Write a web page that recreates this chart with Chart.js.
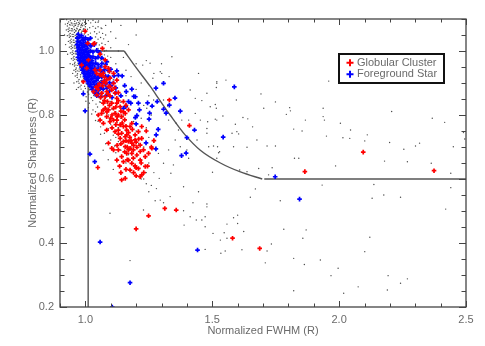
<!DOCTYPE html>
<html>
<head>
<meta charset="utf-8">
<script src="https://cdn.jsdelivr.net/npm/chart.js@4.4.1/dist/chart.umd.min.js"></script>
<style>
  html, body { margin: 0; padding: 0; background: #fff; }
  #wrap { width: 485px; height: 346px; }
</style>
</head>
<body>
<div id="wrap"><canvas id="sharpChart" width="485" height="346"></canvas></div>
<script>
// axis ticks
const xTickLabels = [1.0, 1.5, 2.0, 2.5];
const yTickLabels = [0.2, 0.4, 0.6, 0.8, 1.0];
const xMinorTicks = [0.9, 1.0, 1.1, 1.2, 1.3, 1.4, 1.5, 1.6, 1.7, 1.8, 1.9, 2.0, 2.1, 2.2, 2.3, 2.4, 2.5];
const yMinorTicks = [0.2, 0.25, 0.3, 0.35, 0.4, 0.45, 0.5, 0.55, 0.6, 0.65, 0.7, 0.75, 0.8, 0.85, 0.9, 0.95, 1.0, 1.05, 1.1];

// selection boundary, [fwhm, sharpness]
const cutBox = [[1.011, 0.2], [1.011, 1.0], [1.153, 1.0]];
const cutCurve = [[1.153, 1.0], [1.2, 0.948], [1.255, 0.89], [1.295, 0.844], [1.334, 0.8], [1.393, 0.738],
  [1.453, 0.69], [1.532, 0.65], [1.611, 0.622], [1.697, 0.6]];
const cutFloor = [[1.705, 0.6], [2.5, 0.6]];

// globular clusters (red)
const clusterGCs = [
  [0.999,1.062],[1.036,1.024],[1.067,1.008],[1.012,0.972],[1.005,0.946],[0.992,0.904],[1.038,0.941],[1.058,0.925],
  [1.071,0.93],[1.091,0.946],[1.078,0.972],[1.051,0.889],[1.064,0.868],[1.097,0.889],[1.124,0.909],[1.009,1.024],
  [1.032,1.022],[0.985,0.956],[1.058,0.99],
  [1.058,0.941],[1.078,0.951],[1.095,0.936],[1.111,0.93],[1.045,0.93],[1.071,0.904],
  [1.064,0.925],[1.075,0.918],[1.084,0.91],[1.097,0.915],[1.055,0.897],[1.068,0.891],[1.042,0.887],[1.091,0.889],
  [1.111,0.899],[1.104,0.878],[1.084,0.873],[1.064,0.868],[1.045,0.863],[1.032,0.873],[1.078,0.857],[1.097,0.859],
  [1.117,0.868],[1.124,0.852],[1.087,0.842],[1.071,0.837],[1.104,0.837],[1.124,0.837],[1.137,0.826],[1.15,0.842],
  [1.111,0.821],[1.091,0.816],[1.078,0.821],[1.064,0.805],[1.051,0.8],[1.084,0.795],[1.117,0.805],[1.13,0.8],
  [1.097,0.779],[1.111,0.784],[1.124,0.784],[1.143,0.795],[1.157,0.805],[1.17,0.816],[1.137,0.769],[1.15,0.764],
  [1.163,0.753],[1.176,0.764],[1.183,0.774],[1.13,0.753],[1.117,0.748],[1.143,0.743],[1.157,0.732],[1.17,0.717],
  [1.183,0.712],[1.196,0.722],[1.163,0.738],[1.15,0.717],[1.137,0.727],[1.176,0.696],[1.189,0.691],[1.203,0.699],
  [1.216,0.686],[1.183,0.68],[1.163,0.68],[1.143,0.67],[1.13,0.691],[1.111,0.691],[1.091,0.712],[1.104,0.696],
  [1.124,0.659],[1.15,0.654],[1.17,0.659],[1.189,0.665],[1.216,0.659],[1.236,0.67],[1.249,0.68],[1.216,0.706],
  [1.229,0.691],[1.183,0.649],[1.196,0.641],[1.209,0.633],[1.176,0.628],[1.222,0.613],[1.216,0.607],[1.143,0.597],
  [1.157,0.602],[1.203,0.675],[1.157,0.701],[1.17,0.691],[1.196,0.738],[1.222,0.727],[1.209,0.748],[1.222,0.764],
  [1.084,0.753],[1.071,0.774],[1.058,0.784],
  [1.05,0.88],[1.08,0.9],[1.115,0.885],[1.06,0.855],[1.09,0.865],[1.13,0.87],[1.075,0.845],
  [1.095,0.83],[1.12,0.825],[1.085,0.81],[1.105,0.8],[1.14,0.812],[1.07,0.815],[1.13,0.845],[1.15,0.81],[1.16,0.83],
  [1.1,0.79],[1.12,0.77],[1.145,0.775],[1.155,0.785],[1.16,0.765],[1.13,0.74],[1.17,0.745],[1.185,0.755],[1.105,0.76],[1.125,0.795],
  [1.14,0.71],[1.16,0.72],[1.175,0.73],[1.19,0.705],[1.2,0.715],[1.155,0.685],[1.125,0.705],[1.21,0.725],[1.165,0.7],[1.18,0.72],
  [1.135,0.64],[1.16,0.63],[1.19,0.62],[1.2,0.635],[1.22,0.65],[1.23,0.62],[1.165,0.66],[1.14,0.62],[1.245,0.64],[1.2,0.61],
  [1.24,0.75],[1.26,0.7],[1.27,0.72],[1.262,0.696],[1.236,0.639],
  [1.049,0.636],[1.2,0.444],[1.249,0.485],[1.313,0.508],[1.358,0.503],[1.41,0.767],[1.331,0.847],[1.58,0.415],
  [1.687,0.383],[1.865,0.623],[2.095,0.684],[2.374,0.626]
];

// foreground stars (blue)
const foregroundStars = [
  [0.972,1.052],[0.985,1.048],
  [0.968,1.040],[0.978,1.043],[0.990,1.037],[1.000,1.041],[1.010,1.036],[1.020,1.040],
  [0.970,1.030],[0.980,1.027],[0.992,1.032],[1.000,1.026],
  [0.967,1.020],[0.976,1.017],[0.986,1.022],[0.995,1.015],[1.004,1.019],[1.012,1.022],[1.022,1.016],[1.035,1.020],
  [0.972,1.010],[0.981,1.006],[0.990,1.012],[0.999,1.004],[1.008,1.009],
  [0.969,1.000],[0.977,0.996],[0.986,1.001],[0.994,0.994],[1.003,0.999],[1.012,0.995],[1.020,1.001],[1.030,0.997],[1.045,1.002],[1.055,0.996],
  [0.974,0.990],[0.982,0.986],[0.990,0.991],[0.998,0.984],[1.007,0.989],[1.016,0.985],
  [0.971,0.980],[0.979,0.976],[0.987,0.981],[0.995,0.974],[1.003,0.979],[1.011,0.975],[1.020,0.980],[1.030,0.982],[1.040,0.977],[1.050,0.981],[1.065,0.978],
  [0.976,0.970],[0.984,0.966],[0.992,0.971],[1.000,0.964],[1.008,0.969],[1.017,0.965],[1.026,0.970],
  [0.980,0.960],[0.988,0.956],[0.996,0.961],[1.004,0.954],[1.012,0.959],[1.021,0.955],[1.030,0.960],[1.040,0.962],[1.050,0.957],[1.065,0.961],[1.080,0.958],
  [0.984,0.950],[0.992,0.946],[1.000,0.951],[1.008,0.944],[1.017,0.949],[1.026,0.945],[1.036,0.950],
  [0.988,0.940],[0.997,0.936],[1.005,0.941],[1.013,0.934],[1.022,0.939],[1.031,0.935],[1.042,0.940],[1.050,0.943],[1.060,0.938],[1.075,0.942],[1.090,0.939],
  [0.993,0.930],[1.002,0.926],[1.010,0.931],[1.019,0.924],[1.028,0.929],[1.038,0.925],
  [0.998,0.920],[1.008,0.916],[1.017,0.921],[1.026,0.914],[1.036,0.919],[1.047,0.915],[1.055,0.922],[1.065,0.918],[1.080,0.921],[1.095,0.917],
  [1.004,0.910],[1.014,0.906],[1.024,0.911],[1.034,0.904],[1.045,0.909],
  [1.010,0.900],[1.021,0.896],[1.032,0.901],[1.043,0.894],[1.055,0.899],[1.065,0.902],[1.080,0.897],[1.095,0.901],
  [1.018,0.890],[1.030,0.886],[1.042,0.891],[1.056,0.884],[1.070,0.881],[1.085,0.884],
  [1.027,0.880],[1.040,0.876],[1.053,0.879],
  [1.036,0.870],[1.050,0.866],[1.045,0.860],[1.060,0.857],
  [1.060,0.950],[1.070,0.935],[1.050,0.915],[1.075,0.905],[1.090,0.920],[1.065,0.885],[1.080,0.860],[1.095,0.875],
  [1.040,0.870],[1.110,0.900],[1.120,0.870],[1.140,0.860],[1.105,0.855],
  [1.084,0.967],[1.1,0.943],[1.113,0.922],[1.124,0.938],[1.13,0.924],[1.145,0.922],[1.12,0.885],[1.1,0.891],
  [1.155,0.892],[1.161,0.873],[1.183,0.881],[1.197,0.857],[1.179,0.837],[1.159,0.826],[1.15,0.821],[1.17,0.842],
  [1.191,0.858],[1.209,0.837],[1.245,0.838],[1.263,0.828],[1.283,0.842],[1.278,0.884],[1.308,0.899],[1.353,0.853],
  [1.331,0.831],[1.374,0.812],[1.308,0.818],[1.318,0.806],[1.253,0.806],[1.213,0.816],[1.197,0.792],[1.203,0.798],
  [1.2,0.772],[1.251,0.787],[1.287,0.755],[1.279,0.738],[1.239,0.713],[1.278,0.694],[1.43,0.753],[1.4,0.729],
  [1.397,0.681],[1.379,0.673],[1.543,0.731],[1.587,0.888],[1.748,0.607],[1.844,0.537],[1.442,0.378],[1.176,0.276],
  [1.058,0.403],[1.018,0.678],[1.037,0.654],[0.999,0.813],[0.992,0.866],[1.106,0.2]
];

// all detected sources (black dots)
const fieldStars = [
  [0.926,1.098],[0.934,1.091],[0.941,1.095],[0.947,1.087],[0.953,1.099],[0.958,1.093],[0.963,1.085],[0.969,1.096],[0.974,1.089],[0.979,1.094],[0.985,1.083],[0.991,1.097],[0.997,1.090],[1.004,1.086],[1.012,1.095],[1.021,1.088],
  [1.030,1.096],[1.040,1.090],[1.052,1.094],
  [0.921,1.084],[0.930,1.086],[0.938,1.082],[0.944,1.088],[0.950,1.081],[0.956,1.085],[0.961,1.080],[0.966,1.088],[0.972,1.082],[0.977,1.085],[0.983,1.080],[0.988,1.087],[0.995,1.081],
  [0.929,1.078],[0.936,1.072],[0.943,1.081],[0.949,1.069],[0.955,1.076],[0.960,1.080],[0.966,1.071],[0.971,1.077],[0.977,1.067],[0.982,1.074],[0.988,1.079],[0.994,1.070],[1.000,1.076],[1.008,1.068],[1.017,1.073],[1.030,1.077],
  [1.040,1.071],[1.050,1.076],[1.062,1.072],
  [0.925,1.066],[0.932,1.068],[0.939,1.064],[0.945,1.070],[0.951,1.063],[0.957,1.067],[0.962,1.062],[0.968,1.069],[0.974,1.064],[0.980,1.067],[0.986,1.062],[0.992,1.068],
  [0.933,1.061],[0.940,1.055],[0.946,1.063],[0.952,1.052],[0.957,1.058],[0.963,1.064],[0.968,1.054],[0.973,1.060],[0.979,1.050],[0.984,1.057],[0.990,1.062],[0.996,1.053],[1.003,1.059],[1.011,1.051],[1.020,1.056],[1.036,1.060],
  [1.045,1.054],[1.055,1.059],[1.068,1.055],
  [0.929,1.048],[0.936,1.050],[0.942,1.046],[0.948,1.052],[0.954,1.045],[0.960,1.049],[0.965,1.044],[0.971,1.051],[0.977,1.046],[0.983,1.049],
  [0.937,1.043],[0.944,1.037],[0.950,1.045],[0.955,1.034],[0.961,1.041],[0.966,1.046],[0.972,1.036],[0.977,1.042],[0.982,1.032],[0.987,1.039],[0.993,1.044],[0.999,1.035],[1.006,1.041],[1.014,1.033],[1.024,1.038],[1.040,1.044],
  [1.050,1.037],[1.060,1.042],[1.072,1.038],
  [0.933,1.030],[0.940,1.032],[0.946,1.028],[0.952,1.034],[0.958,1.027],[0.964,1.031],[0.969,1.026],[0.975,1.033],
  [0.940,1.025],[0.947,1.019],[0.953,1.027],[0.959,1.016],[0.964,1.023],[0.969,1.028],[0.975,1.018],[0.980,1.024],[0.985,1.014],[0.991,1.021],[0.997,1.026],[1.003,1.017],[1.010,1.023],[1.018,1.015],[1.028,1.020],[1.045,1.026],
  [1.055,1.019],[1.065,1.024],[1.078,1.020],
  [0.937,1.012],[0.944,1.014],[0.950,1.010],[0.956,1.016],[0.962,1.009],[0.968,1.013],
  [0.944,1.007],[0.951,1.001],[0.957,1.009],[0.963,0.998],[0.968,1.005],[0.973,1.010],[0.979,1.000],[0.984,1.006],[0.989,0.996],[0.995,1.003],[1.001,1.008],[1.007,0.999],[1.014,1.005],[1.022,0.997],[1.032,1.002],[1.050,1.008],
  [1.060,1.001],[1.070,1.006],[1.082,1.002],
  [0.941,0.994],[0.948,0.996],[0.954,0.992],[0.960,0.998],[0.966,0.991],
  [0.948,0.989],[0.955,0.983],[0.961,0.991],[0.967,0.980],[0.972,0.987],[0.977,0.992],[0.983,0.982],[0.988,0.988],[0.993,0.978],[0.999,0.985],[1.005,0.990],[1.011,0.981],[1.018,0.987],[1.026,0.979],[1.037,0.984],[1.055,0.990],
  [1.065,0.983],[1.075,0.988],[1.088,0.984],
  [0.945,0.976],[0.952,0.978],[0.958,0.974],[0.964,0.980],
  [0.952,0.971],[0.959,0.965],[0.965,0.973],[0.971,0.962],[0.976,0.969],[0.981,0.974],[0.987,0.964],[0.992,0.970],[0.997,0.960],[1.003,0.967],[1.009,0.972],[1.015,0.963],[1.022,0.969],[1.030,0.961],[1.041,0.966],[1.060,0.972],
  [1.070,0.965],[1.080,0.970],[1.092,0.966],
  [0.950,0.958],[0.957,0.960],[0.963,0.956],
  [0.957,0.953],[0.964,0.947],[0.970,0.955],[0.976,0.944],[0.981,0.951],[0.986,0.956],[0.992,0.946],[0.997,0.952],[1.002,0.942],[1.008,0.949],[1.014,0.954],[1.020,0.945],[1.027,0.951],[1.035,0.943],[1.046,0.948],[1.064,0.954],
  [1.075,0.947],[1.085,0.952],[1.098,0.948],
  [0.955,0.940],[0.962,0.942],[0.968,0.938],
  [0.962,0.935],[0.969,0.929],[0.975,0.937],[0.981,0.926],[0.986,0.933],[0.991,0.938],[0.997,0.928],[1.002,0.934],[1.008,0.924],[1.014,0.931],[1.020,0.936],[1.027,0.927],[1.035,0.933],[1.044,0.925],[1.056,0.930],[1.070,0.936],
  [0.960,0.922],[0.967,0.924],
  [0.968,0.917],[0.975,0.911],[0.981,0.919],[0.987,0.908],[0.993,0.915],[0.999,0.920],[1.005,0.910],[1.011,0.916],[1.017,0.906],[1.024,0.913],[1.031,0.918],[1.039,0.909],[1.048,0.915],[1.060,0.907],[1.075,0.912],
  [0.966,0.904],[0.972,0.906],
  [0.975,0.899],[0.983,0.893],[0.990,0.901],[0.997,0.890],[1.004,0.897],[1.011,0.902],[1.018,0.892],[1.025,0.898],[1.032,0.888],[1.040,0.895],[1.049,0.900],[1.058,0.891],[1.069,0.897],[1.080,0.889],
  [0.972,0.886],[0.979,0.888],
  [0.983,0.881],[0.992,0.875],[1.000,0.883],[1.008,0.872],[1.016,0.879],[1.024,0.884],[1.032,0.874],[1.041,0.880],[1.050,0.870],[1.060,0.877],[1.072,0.882],[1.085,0.873],
  [0.992,0.863],[1.003,0.857],[1.013,0.865],[1.023,0.854],[1.033,0.861],[1.043,0.866],[1.054,0.856],[1.066,0.862],[1.079,0.852],[1.092,0.859],
  [1.002,0.843],[1.016,0.837],[1.029,0.845],[1.042,0.834],[1.056,0.841],[1.070,0.846],[1.086,0.836],[1.100,0.842],
  [1.012,0.823],[1.030,0.816],[1.048,0.825],[1.066,0.814],[1.085,0.821],[1.105,0.818],
  [1.025,0.803],[1.050,0.797],[1.075,0.806],[1.100,0.795],[1.118,0.801],[1.040,0.783],[1.070,0.777],[1.095,0.785],
  [1.125,0.776],[1.060,0.763],[1.090,0.757],[1.130,0.761],[1.075,0.743],[1.110,0.737],[1.140,0.741],[1.100,0.722],
  [1.130,0.717],[1.115,0.703],[1.160,0.698],[1.120,0.682],[1.170,0.676],
  [0.918,1.050],[0.922,1.020],[0.930,0.990],[0.940,0.960],[0.950,0.930],[0.955,0.900],[0.965,0.880],[1.050,1.090],
  [1.065,1.070],[1.080,1.050],[1.090,1.030],[1.100,1.010],[1.075,1.000],[1.100,0.980],[1.120,0.960],[1.095,0.940],
  [1.130,0.930],[1.110,0.910],[1.150,0.890],[1.120,0.870],[1.160,0.860],[1.140,0.840],[1.170,0.820],[1.150,0.800],
  [1.190,0.780],[1.200,0.750],[1.180,0.730],[1.210,0.710],[1.190,0.690],[1.220,0.660],[1.200,0.640],[1.240,0.620],
  [1.230,0.600],[1.260,0.580],[1.250,0.560],
  [1.060,0.840],[1.075,0.820],[1.090,0.800],[1.100,0.830],[1.120,0.810],[1.140,0.790],[1.100,0.770],[1.130,0.760],
  [1.160,0.750],[1.120,0.730],[1.150,0.720],[1.180,0.700],[1.140,0.690],[1.170,0.680],[1.200,0.670],[1.160,0.650],
  [1.190,0.640],[1.210,0.630],[1.180,0.620],[1.230,0.640],[1.250,0.650],[1.220,0.600],[1.270,0.620],[1.240,0.585],
  [1.280,0.570],[1.080,0.710],[1.060,0.740],[1.050,0.780],[1.040,0.810],[1.070,0.690],[1.090,0.660],[1.110,0.630],
  [1.230,0.700],[1.250,0.730],[1.240,0.760],[1.220,0.790],[1.260,0.800],[1.230,0.830],[1.250,0.860],[1.200,0.880],
  [1.220,0.900],[1.180,0.920],[1.160,0.940],[1.200,0.960],[1.150,0.980],[1.130,1.000],[1.170,1.020],[1.120,1.040],
  [1.100,1.060],[1.140,1.080],[1.080,1.080],[1.200,1.050],[1.240,0.970],[1.300,0.960],[1.330,0.920],[1.270,0.930],
  [1.341,0.982],[1.255,0.962],[1.226,0.956],[1.295,0.935],[1.301,0.93],[1.266,0.915],[1.308,0.904],[1.446,0.93],
  [1.518,0.899],[1.413,0.878],[1.433,0.852],[1.479,0.868],[1.595,0.847],[1.492,0.826],[1.433,0.805],[1.453,0.784],
  [1.407,0.784],[1.38,0.784],[1.518,0.784],[1.358,0.774],[1.328,0.784],[1.367,0.753],[1.479,0.758],[1.597,0.748],
  [1.308,0.847],[1.324,0.828],[1.269,0.847],[1.242,0.821],[1.354,0.722],[1.374,0.701],[1.4,0.691],[1.288,0.68],
  [1.328,0.691],[1.44,0.722],[1.479,0.743],[1.521,0.701],[1.637,0.699],[1.676,0.722],[1.637,0.623],[1.337,0.618],
  [1.291,0.602],[1.387,0.576],[1.446,0.56],[1.407,0.665],[1.308,0.649],[1.347,0.644],[1.518,0.665],[1.722,0.613],
  [1.518,0.904],[1.554,0.909],[1.516,0.886],[1.459,0.845],[1.512,0.833],[1.516,0.821],[1.482,0.779],[1.512,0.787],
  [1.542,0.797],[1.591,0.771],[1.578,0.743],[1.604,0.741],[1.505,0.703],[1.486,0.701],[1.584,0.701],[1.529,0.685],
  [1.525,0.682],[1.501,0.621],[1.608,0.628],[1.479,0.522],[1.6,0.487],[1.584,0.479],[1.558,0.459],[1.6,0.461],
  [1.472,0.482],[1.459,0.472],[1.472,0.451],[1.503,0.43],[1.547,0.432],[1.532,0.409],[1.558,0.415],[1.472,0.38],
  [1.534,0.368],[1.551,0.375],
  [1.959,0.906],[1.692,0.866],[1.749,0.841],[1.703,0.821],[1.805,0.823],[1.808,0.813],[1.792,0.802],[1.621,0.792],
  [1.64,0.788],[1.867,0.784],[1.937,0.821],[1.937,0.795],[1.942,0.784],[2.005,0.774],[1.659,0.763],[1.821,0.756],
  [1.854,0.75],[1.95,0.734],[2.045,0.753],[2.015,0.729],[2.042,0.727],[2.111,0.738],[2.207,0.811],[2.367,0.79],
  [2.416,0.777],[2.49,0.745],[2.495,0.725],[1.716,0.703],[1.749,0.703],[1.824,0.665],[1.841,0.665],[2.101,0.719],
  [2.199,0.714],[2.255,0.693],[2.301,0.703],[2.317,0.712],[2.45,0.701],[2.179,0.656],[2.269,0.654],[1.986,0.641],
  [1.683,0.633],[1.736,0.635],[2.44,0.618],[2.363,0.649],[1.933,0.581],[2.137,0.583],[2.176,0.55],[2.242,0.543],
  [2.13,0.54],[1.67,0.569],[1.65,0.543],[1.768,0.532],[2.42,0.506],[2.44,0.573],[1.782,0.443],[1.87,0.441],
  [1.857,0.415],[1.624,0.436],[2.121,0.418],[1.733,0.397],[1.617,0.379],[1.716,0.375],[2.101,0.373],[1.821,0.352],
  [1.926,0.347],[1.863,0.333],[1.709,0.338],[1.996,0.321],[1.968,0.298],[2.193,0.298],[2.269,0.288],[2.242,0.274],
  [2.075,0.263],[2.19,0.253],[1.821,0.251],[2.018,0.243],
  [1.097,0.493],[1.176,0.345],[1.275,0.532],[1.308,0.526],[1.387,0.501],[1.424,0.526],[1.389,0.456],[1.437,0.472],
  [1.295,0.534],[1.334,0.545],[1.229,0.503],[1.413,0.482],[1.479,0.513]
];

function toXY(pairs) {
  return pairs.map(p => ({ x: p[0], y: p[1] }));
}

const labelFont = { family: '"Liberation Sans", Arial, sans-serif', size: 11 };
const textGray = '#6a6a6a';

// inward IDL-style ticks and frame
const frameTicks = {
  id: 'frameTicks',
  afterDatasetsDraw(chart) {
    const { ctx, chartArea: a, scales } = chart;
    ctx.save();
    ctx.strokeStyle = '#444';
    ctx.lineWidth = 1.3;
    ctx.strokeRect(a.left, a.top, a.right - a.left, a.bottom - a.top);
    ctx.lineWidth = 1;
    ctx.beginPath();
    xMinorTicks.forEach(v => {
      const px = Math.round(scales.x.getPixelForValue(v)) + 0.5;
      const len = xTickLabels.includes(v) ? 6 : 3.5;
      ctx.moveTo(px, a.bottom); ctx.lineTo(px, a.bottom - len);
      ctx.moveTo(px, a.top); ctx.lineTo(px, a.top + len);
    });
    yMinorTicks.forEach(v => {
      const py = Math.round(scales.y.getPixelForValue(v)) + 0.5;
      const len = yTickLabels.includes(v) ? 7 : 4.5;
      ctx.moveTo(a.left, py); ctx.lineTo(a.left + len, py);
      ctx.moveTo(a.right, py); ctx.lineTo(a.right - len, py);
    });
    ctx.stroke();
    ctx.restore();
  }
};

// boxed key in the upper right of the plot
const keyBox = {
  id: 'keyBox',
  afterDraw(chart) {
    const { ctx, chartArea } = chart;
    const keyed = chart.data.datasets.filter(d => d.inKey);
    const left = chartArea.right - 127;
    const top = chartArea.top + 35;
    ctx.save();
    ctx.fillStyle = '#fff';
    ctx.fillRect(left, top, 105, 29);
    ctx.lineWidth = 2;
    ctx.strokeStyle = '#111';
    ctx.strokeRect(left, top, 105, 29);
    ctx.font = '11px "Liberation Sans", Arial, sans-serif';
    ctx.textBaseline = 'middle';
    keyed.forEach((d, i) => {
      const cy = top + 8.7 + i * 11.6;
      ctx.strokeStyle = d.borderColor;
      ctx.lineWidth = 2;
      ctx.beginPath();
      ctx.moveTo(left + 7.5, cy); ctx.lineTo(left + 14.5, cy);
      ctx.moveTo(left + 11, cy - 3.5); ctx.lineTo(left + 11, cy + 3.5);
      ctx.stroke();
      ctx.fillStyle = textGray;
      ctx.fillText(d.label, left + 18, cy);
    });
    ctx.restore();
  }
};

const lineStyle = {
  showLine: true,
  pointRadius: 0,
  borderColor: '#555',
  borderWidth: 1.4,
  fill: false,
  order: 3
};

new Chart(document.getElementById('sharpChart'), {
  type: 'scatter',
  data: {
    datasets: [
      {
        label: 'Globular Cluster',
        inKey: true,
        data: toXY(clusterGCs),
        pointStyle: 'cross',
        pointRadius: 2.3,
        borderColor: '#ff0000',
        borderWidth: 1.7,
        order: 0
      },
      {
        label: 'Foreground Star',
        inKey: true,
        data: toXY(foregroundStars),
        pointStyle: 'cross',
        pointRadius: 2.3,
        borderColor: '#0000ff',
        borderWidth: 1.7,
        order: 1
      },
      {
        label: 'All sources',
        data: toXY(fieldStars),
        pointRadius: 0.7,
        backgroundColor: '#4a4a4a',
        borderWidth: 0,
        order: 2
      },
      Object.assign({ label: 'cut box', data: toXY(cutBox), tension: 0 }, lineStyle),
      Object.assign({ label: 'cut curve', data: toXY(cutCurve), cubicInterpolationMode: 'monotone' }, lineStyle),
      Object.assign({ label: 'cut floor', data: toXY(cutFloor), tension: 0 }, lineStyle)
    ]
  },
  options: {
    responsive: false,
    animation: false,
    events: [],
    layout: { padding: { top: 19, right: 19, left: 0, bottom: 0 } },
    plugins: {
      legend: { display: false },
      tooltip: { enabled: false }
    },
    scales: {
      x: {
        type: 'linear',
        min: 0.9,
        max: 2.5,
        grid: { display: false, drawTicks: false, tickLength: 0 },
        border: { display: false },
        afterBuildTicks: axis => { axis.ticks = xTickLabels.map(v => ({ value: v })); },
        afterFit: scale => { scale.height = 39; },
        ticks: {
          callback: v => v.toFixed(1),
          font: labelFont,
          color: textGray,
          padding: 6,
          maxRotation: 0,
          autoSkip: false
        },
        title: {
          display: true,
          text: 'Normalized FWHM (R)',
          font: labelFont,
          color: textGray,
          padding: { top: 0, bottom: 8 }
        }
      },
      y: {
        type: 'linear',
        min: 0.2,
        max: 1.1,
        grid: { display: false, drawTicks: false, tickLength: 0 },
        border: { display: false },
        afterBuildTicks: axis => { axis.ticks = yTickLabels.map(v => ({ value: v })); },
        afterFit: scale => { scale.width = 60; },
        ticks: {
          callback: v => v.toFixed(1),
          font: labelFont,
          color: textGray,
          padding: 6,
          autoSkip: false
        },
        title: {
          display: true,
          text: 'Normalized Sharpness (R)',
          font: labelFont,
          color: textGray,
          padding: { top: 26, bottom: 0 }
        }
      }
    }
  },
  plugins: [frameTicks, keyBox]
});
</script>
</body>
</html>
